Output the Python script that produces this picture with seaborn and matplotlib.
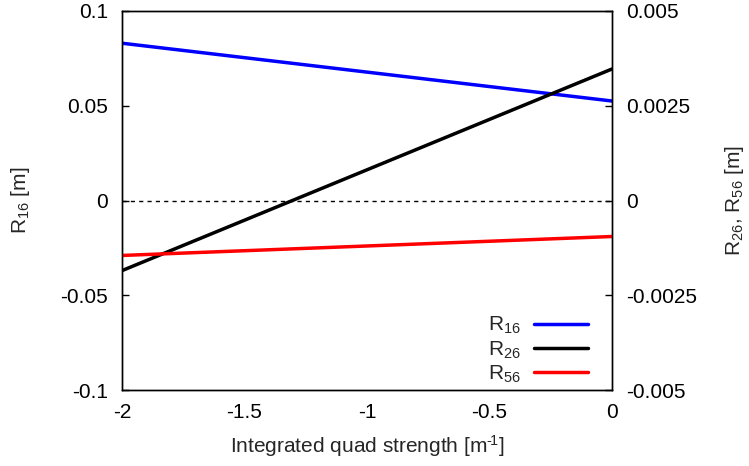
import matplotlib
matplotlib.use("Agg")
import matplotlib.pyplot as plt
import seaborn as sns
import numpy as np
import pandas as pd
from matplotlib.lines import Line2D

sns.set_style("white")
plt.rcParams['font.family'] = ['Liberation Sans', 'DejaVu Sans']
plt.rcParams['mathtext.fontset'] = 'custom'
plt.rcParams['mathtext.rm'] = 'Liberation Sans'
plt.rcParams['mathtext.it'] = 'Liberation Sans'

# Data
k = [-2.0, 0.0]
r16 = [0.083, 0.0525]          # left axis [m]
r26 = [-0.00185, 0.00347]      # right axis [m]
r56 = [-0.00145, -0.00095]     # right axis [m]

xticks = [-2, -1.5, -1, -0.5, 0]
xticklabels = ["-2", "-1.5", "-1", "-0.5", "0"]
yticks_left = [-0.1, -0.05, 0, 0.05, 0.1]
yticklabels_left = ["-0.1", "-0.05", "0", "0.05", "0.1"]
yticks_right = [-0.005, -0.0025, 0, 0.0025, 0.005]
yticklabels_right = ["-0.005", "-0.0025", "0", "0.0025", "0.005"]

df16 = pd.DataFrame({"k": k, "v": r16})
df26 = pd.DataFrame({"k": k, "v": r26})
df56 = pd.DataFrame({"k": k, "v": r56})

FS = 15

fig = plt.figure(figsize=(7.49, 4.66), dpi=100)
ax = fig.add_axes([122/749, 76/466, 490/749, 379/466])
ax2 = ax.twinx()

ax.axhline(0, color="black", lw=1, ls=(0, (3, 3)))
sns.lineplot(data=df16, x="k", y="v", ax=ax, color="#0000ff", lw=2.5, legend=False)
sns.lineplot(data=df26, x="k", y="v", ax=ax2, color="black", lw=2.5, legend=False)
sns.lineplot(data=df56, x="k", y="v", ax=ax2, color="#ff0000", lw=2.5, legend=False)

ax.set_xlim(-2, 0)
ax.set_ylim(-0.1, 0.1)
ax2.set_ylim(-0.005, 0.005)
ax.set_xticks(xticks)
ax.set_xticklabels(xticklabels)
ax.set_yticks(yticks_left)
ax.set_yticklabels(yticklabels_left)
ax2.set_yticks(yticks_right)
ax2.set_yticklabels(yticklabels_right)

for a in (ax, ax2):
    a.tick_params(direction="in", length=5, width=1, labelsize=FS, colors="black")
    for s in a.spines.values():
        s.set_color("black")
        s.set_linewidth(1)
ax.tick_params(axis="x", top=False, pad=9)
ax.tick_params(axis="y", pad=10)
ax2.tick_params(axis="y", pad=10)

ax.set_xlabel("Integrated quad strength [m$^{\u2010\\!1}$]", fontsize=FS, va="center")
ax.xaxis.set_label_coords(0.5, (390 - 446) / 379)
ax.set_ylabel(r"R$_{16}$ [m]", fontsize=FS, va="center")
ax.yaxis.set_label_coords((20 - 122) / 490, 0.5)
ax2.set_ylabel(r"R$_{26}$, R$_{56}$ [m]", fontsize=FS, va="center")
ax2.yaxis.set_label_coords((735 - 122) / 490, 0.5)

handles = [Line2D([], [], color="#0000ff", lw=2.5),
           Line2D([], [], color="black", lw=2.5),
           Line2D([], [], color="#ff0000", lw=2.5)]
labels = [r"R$_{16}$", r"R$_{26}$", r"R$_{56}$"]
ax2.legend(handles, labels, loc="lower right", markerfirst=False, frameon=False,
           fontsize=FS, handlelength=2.6, handletextpad=0.6, labelspacing=0.15,
           borderaxespad=0.0, bbox_to_anchor=(0.968, -0.009))

fig.savefig("out.png", dpi=100)
